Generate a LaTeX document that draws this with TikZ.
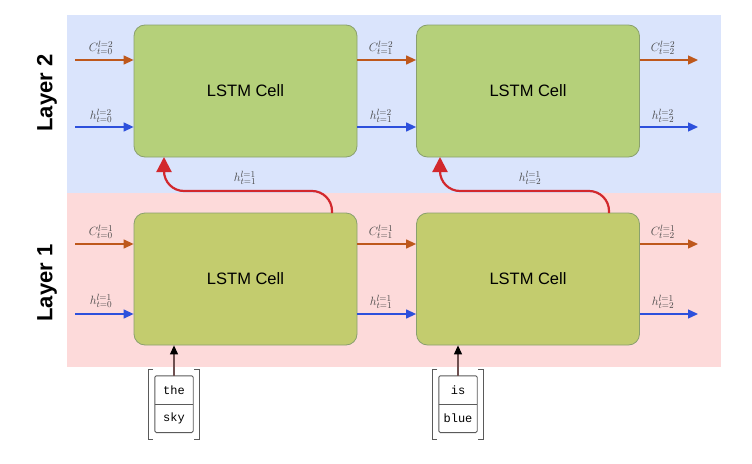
\documentclass[tikz,border=0pt]{standalone}
\usepackage{fontspec}
\setmainfont{Liberation Sans}
\setmonofont{Liberation Mono}
\usetikzlibrary{arrows.meta,calc}
\definecolor{bandblue}{RGB}{218,228,252}
\definecolor{bandpink}{RGB}{253,218,218}
\definecolor{celltop}{RGB}{181,208,122}
\definecolor{cellbot}{RGB}{195,204,110}
\definecolor{cellborder}{RGB}{138,160,110}
\definecolor{corange}{RGB}{190,88,28}
\definecolor{cblue}{RGB}{45,80,220}
\definecolor{cred}{RGB}{210,40,45}
\definecolor{inborder}{RGB}{90,90,90}
\definecolor{kline}{RGB}{110,80,80}
\begin{document}
\begin{tikzpicture}[x=1pt,y=-1pt,
  cellbox/.style={draw=cellborder,line width=0.8pt,rounded corners=11pt,minimum width=223pt,minimum height=132pt,inner sep=0pt,font=\fontsize{16.5}{18}\selectfont},
  carrow/.style={draw=corange,line width=1.3pt,-{Triangle[length=10pt,width=9pt]}},
  harrow/.style={draw=cblue,line width=1.3pt,-{Triangle[length=10pt,width=9pt]}},
  rarrow/.style={draw=cred,line width=2.2pt,rounded corners=20pt,-{Triangle[length=15pt,width=15pt]}},
  karrow/.style={draw=kline,line width=1.1pt,-{Triangle[length=9pt,width=8pt,fill=black,color=black]}},
  lab/.style={font=\fontsize{12.5}{14}\selectfont,text=black!72,inner sep=1pt},
  tokbox/.style={minimum width=38pt,minimum height=28pt,inner sep=0pt,font=\ttfamily\fontsize{12}{13}\selectfont},
  tokframe/.style={draw=inborder,line width=0.9pt,rounded corners=1.5pt},
  bracket/.style={draw=inborder,line width=0.9pt},
  layerlab/.style={rotate=90,font=\bfseries\fontsize{22}{24}\selectfont}
]
\useasboundingbox (0,0) rectangle (752,463);
\fill[white] (0,0) rectangle (752,463);
% bands
\fill[bandblue] (67,15) rectangle (721,193);
\fill[bandpink] (67,193) rectangle (721,367);
% layer labels
\node[layerlab] (L2) at (47,93) {Layer 2};
\node[layerlab] (L1) at (47,283) {Layer 1};
% cells
\node[cellbox,fill=celltop] (c21) at (245.5,91) {LSTM Cell};
\node[cellbox,fill=celltop] (c22) at (528,91) {LSTM Cell};
\node[cellbox,fill=cellbot] (c11) at (245.5,279) {LSTM Cell};
\node[cellbox,fill=cellbot] (c12) at (528,279) {LSTM Cell};
% free-end coordinates
\coordinate (c2in) at (75,60);
\coordinate (h2in) at (75,127);
\coordinate (c2out) at (698,60);
\coordinate (h2out) at (698,127);
\coordinate (c1in) at (75,244);
\coordinate (h1in) at (75,314);
\coordinate (c1out) at (698,244);
\coordinate (h1out) at (698,314);
% layer 2 arrows
\draw[carrow] (c2in) -- (c2in -| c21.west);
\draw[harrow] (h2in) -- (h2in -| c21.west);
\draw[carrow] (c2in -| c21.east) -- (c2in -| c22.west);
\draw[harrow] (h2in -| c21.east) -- (h2in -| c22.west);
\draw[carrow] (c2out -| c22.east) -- (c2out);
\draw[harrow] (h2out -| c22.east) -- (h2out);
% layer 1 arrows
\draw[carrow] (c1in) -- (c1in -| c11.west);
\draw[harrow] (h1in) -- (h1in -| c11.west);
\draw[carrow] (c1in -| c11.east) -- (c1in -| c12.west);
\draw[harrow] (h1in -| c11.east) -- (h1in -| c12.west);
\draw[carrow] (c1out -| c12.east) -- (c1out);
\draw[harrow] (h1out -| c12.east) -- (h1out);
% labels layer 2
\node[lab] (l1) at (101,48) {$C^{l=2}_{t=0}$};
\node[lab] (l2) at (101,116) {$h^{l=2}_{t=0}$};
\node[lab] (l3) at (381,48) {$C^{l=2}_{t=1}$};
\node[lab] (l4) at (381,116) {$h^{l=2}_{t=1}$};
\node[lab] (l5) at (663,48) {$C^{l=2}_{t=2}$};
\node[lab] (l6) at (663,116) {$h^{l=2}_{t=2}$};
% labels layer 1
\node[lab] (l7) at (101,232) {$C^{l=1}_{t=0}$};
\node[lab] (l8) at (101,301) {$h^{l=1}_{t=0}$};
\node[lab] (l9) at (381,232) {$C^{l=1}_{t=1}$};
\node[lab] (l10) at (381,302) {$h^{l=1}_{t=1}$};
\node[lab] (l11) at (663,232) {$C^{l=1}_{t=2}$};
\node[lab] (l12) at (663,302) {$h^{l=1}_{t=2}$};
% red vertical connections
\coordinate (r1s) at (332,213);
\coordinate (r1e) at (164,157);
\coordinate (r2s) at (609,213);
\coordinate (r2e) at (440,157);
\draw[rarrow] (r1s) -- (332,191) -- (164,191) -- (r1e);
\draw[rarrow] (r2s) -- (609,191) -- (440,191) -- (r2e);
\node[lab] (rl1) at (245,178) {$h^{l=1}_{t=1}$};
\node[lab] (rl2) at (530,178) {$h^{l=1}_{t=2}$};
% input tokens
\node[tokbox] (t1a) at (174,390) {the};
\node[tokbox,anchor=north] (t1b) at (t1a.south) {sky};
\node[tokbox] (t2a) at (458,390) {is};
\node[tokbox,anchor=north] (t2b) at (t2a.south) {blue};
\draw[tokframe] (t1a.north west) rectangle (t1b.south east);
\draw[tokframe] (t2a.north west) rectangle (t2b.south east);
\draw[bracket] (t1a.south west) -- (t1a.south east);
\draw[bracket] (t2a.south west) -- (t2a.south east);
\draw[karrow] (t1a.north) -- (t1a.north |- c11.south);
\draw[karrow] (t2a.north) -- (t2a.north |- c12.south);
% brackets
\draw[bracket] (153,369) -- (148,369) -- (148,439) -- (153,439);
\draw[bracket] (194,369) -- (199,369) -- (199,439) -- (194,439);
\draw[bracket] (437,369) -- (432,369) -- (432,439) -- (437,439);
\draw[bracket] (478,369) -- (483,369) -- (483,439) -- (478,439);
\end{tikzpicture}
\end{document}
